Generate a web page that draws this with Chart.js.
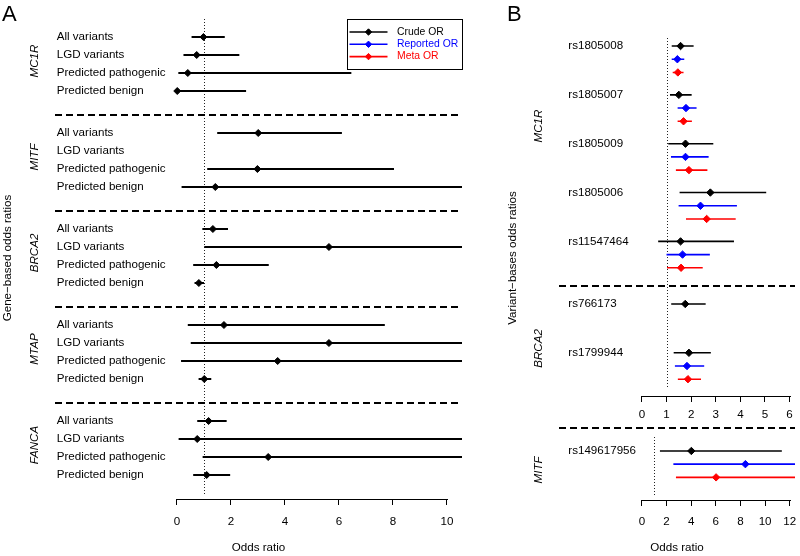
<!DOCTYPE html>
<html>
<head>
<meta charset="utf-8">
<script src="https://cdn.jsdelivr.net/npm/chart.js@4.4.0/dist/chart.umd.min.js"></script>
<style>
  html, body { margin: 0; padding: 0; background: #fff; }
  #wrap { position: relative; width: 800px; height: 556px; overflow: hidden; }
  canvas { position: absolute; }
</style>
</head>
<body>
<div id="wrap">
  <canvas id="chartA" width="470" height="556" style="left:0;top:0"></canvas>
  <canvas id="chartB1" width="330" height="430" style="left:470px;top:0"></canvas>
  <canvas id="chartB2" width="330" height="136" style="left:470px;top:420px"></canvas>
</div>
<script>
// ---- Panel A: gene-based odds ratios ----
const genesA = ['MC1R', 'MITF', 'BRCA2', 'MTAP', 'FANCA'];
const classesA = ['All variants', 'LGD variants', 'Predicted pathogenic', 'Predicted benign'];
const orA = [
  [0.98, 0.73, 0.40, 0.01],
  [3.01, null, 2.98, 1.42],
  [1.33, 5.63, 1.46, 0.81],
  [1.74, 5.63, 3.73, 1.01],
  [1.17, 0.75, 3.38, 1.10]
];
const loA = [
  [0.54, 0.24, 0.05, 0.00],
  [1.49, null, 1.12, 0.17],
  [0.94, 1.01, 0.60, 0.65],
  [0.40, 0.51, 0.15, 0.80],
  [0.75, 0.06, 0.95, 0.60]
];
const hiA = [
  [1.77, 2.31, 6.46, 2.56],
  [6.11, null, 8.04, 12.9],
  [1.89, 31.4, 3.40, 1.00],
  [7.70, 62.1, 24.0, 1.27],
  [1.84, 18.5, 13.2, 1.97]
];
const ticksA = [0, 2, 4, 6, 8, 10];

// ---- Panel B: variant-based odds ratios ----
const seriesB = ['Crude OR', 'Reported OR', 'Meta OR'];
const colorsB = ['#000000', '#0000ff', '#ff0000'];
const snpsB = ['rs1805008', 'rs1805007', 'rs1805009', 'rs1805006', 'rs11547464', 'rs766173', 'rs1799944', 'rs149617956'];
const genesB = ['MC1R', 'MC1R', 'MC1R', 'MC1R', 'MC1R', 'BRCA2', 'BRCA2', 'MITF'];
const crudeOR = [1.57, 1.50, 1.77, 2.78, 1.57, 1.76, 1.91, 4.01];
const crudeLo = [1.21, 1.14, 1.07, 1.53, 0.66, 1.19, 1.29, 1.46];
const crudeHi = [2.10, 2.02, 2.90, 5.05, 3.74, 2.59, 2.80, 11.36];
const reportedOR = [1.44, 1.79, 1.77, 2.38, 1.65, null, 1.83, 8.40];
const reportedLo = [1.21, 1.45, 1.18, 1.49, 1.00, null, 1.34, 2.55];
const reportedHi = [1.72, 2.22, 2.71, 3.86, 2.76, null, 2.53, 27.5];
const metaOR = [1.46, 1.69, 1.91, 2.63, 1.59, null, 1.87, 6.02];
const metaLo = [1.25, 1.45, 1.38, 1.79, 1.02, null, 1.46, 2.76];
const metaHi = [1.69, 2.03, 2.66, 3.81, 2.47, null, 2.40, 13.3];
const ticksB1 = [0, 1, 2, 3, 4, 5, 6];
const ticksB2 = [0, 2, 4, 6, 8, 10, 12];

const FONT = '"Liberation Sans", Arial, Helvetica, sans-serif';
const FS = 11.6;
Chart.defaults.font.family = FONT;
Chart.defaults.font.size = FS;
Chart.defaults.color = '#000';

// row layout (y in row units)
const groupStartA = genesA.map((g, i) => 1 + i * 16 / 3);
const rowYA = (g, r) => groupStartA[g] + r;

const snpStep = 3.7;
const startB = { MC1R: 0.76, BRCA2: 20.30, MITF: 1.74 };
const snpY = snpsB.map((s, i) => startB[genesB[i]] + snpsB.filter((t, j) => j < i && genesB[j] === genesB[i]).length * snpStep);

function ciDataset(lo, hi, ys, color, width) {
  const data = [];
  lo.forEach((l, i) => {
    if (l == null) return;
    data.push({ x: l, y: ys[i] }, { x: hi[i], y: ys[i] }, { x: l, y: null });
  });
  return { type: 'line', data, borderColor: color, borderWidth: width, pointRadius: 0,
           spanGaps: false, fill: false, tension: 0, order: 2 };
}
function pointDataset(or, ys, color, r) {
  const data = [];
  or.forEach((v, i) => { if (v != null) data.push({ x: v, y: ys[i] }); });
  return { type: 'line', showLine: false, data, pointStyle: 'rectRot', pointRadius: r,
           pointBackgroundColor: color, pointBorderColor: color, pointBorderWidth: 1, order: 1 };
}

function xScale(min, max, ticks, height, pad, title) {
  return {
    type: 'linear', min, max,
    afterBuildTicks: s => { s.ticks = ticks.map(v => ({ value: v })); },
    afterFit: s => { s.height = height; s.paddingLeft = 0; s.paddingRight = 0; },
    grid: { drawOnChartArea: false, drawTicks: true, tickLength: 6, color: '#000', lineWidth: 1 },
    border: { display: false },
    ticks: { padding: pad, color: '#000', maxRotation: 0, autoSkip: false },
    title: { display: !!title, text: title || '', color: '#000', padding: { top: 0, bottom: 1 } }
  };
}
function yScale(max) {
  return { type: 'linear', reverse: true, min: 0, max, display: false };
}

// drawing helpers
function dashedH(chart, v) {
  const { ctx, chartArea: a, scales: { y } } = chart;
  const py = Math.round(y.getPixelForValue(v));
  ctx.save();
  ctx.setLineDash([7, 4]); ctx.lineWidth = 1.8; ctx.strokeStyle = '#000';
  ctx.beginPath(); ctx.moveTo(a.left, py); ctx.lineTo(a.right, py); ctx.stroke();
  ctx.restore();
}
function dottedV(chart, v, topOff, botOff) {
  const { ctx, chartArea: a, scales: { x } } = chart;
  const px = Math.round(x.getPixelForValue(v)) + 0.5;
  ctx.save();
  ctx.setLineDash([1, 2]); ctx.lineWidth = 1; ctx.strokeStyle = '#222';
  ctx.beginPath(); ctx.moveTo(px, a.top + topOff); ctx.lineTo(px, a.bottom - botOff); ctx.stroke();
  ctx.restore();
}
function axisLine(chart, ticks) {
  const { ctx, chartArea: a, scales: { x } } = chart;
  const py = a.bottom + 0.5;
  ctx.save();
  ctx.lineWidth = 1; ctx.strokeStyle = '#000';
  ctx.beginPath();
  ctx.moveTo(Math.round(x.getPixelForValue(ticks[0])), py);
  ctx.lineTo(Math.round(x.getPixelForValue(ticks[ticks.length - 1])) + 1, py);
  ctx.stroke();
  ctx.restore();
}
function txt(ctx, s, x, y, o = {}) {
  ctx.save();
  ctx.font = (o.italic ? 'italic ' : '') + (o.size || FS) + 'px ' + FONT;
  ctx.fillStyle = o.color || '#000';
  ctx.textAlign = o.align || 'left';
  ctx.textBaseline = o.baseline || 'middle';
  ctx.translate(x, y);
  if (o.rot) ctx.rotate(o.rot);
  ctx.fillText(s, 0, 0);
  ctx.restore();
}
function diamond(ctx, x, y, r, color) {
  ctx.save();
  ctx.fillStyle = color; ctx.strokeStyle = color; ctx.lineWidth = 1;
  ctx.beginPath();
  ctx.moveTo(x - r, y); ctx.lineTo(x, y - r); ctx.lineTo(x + r, y); ctx.lineTo(x, y + r);
  ctx.closePath(); ctx.fill(); ctx.stroke();
  ctx.restore();
}

const baseOptions = {
  responsive: false, animation: false, devicePixelRatio: 1,
  plugins: { legend: { display: false }, tooltip: { enabled: false } }
};

// ---- Chart A ----
const ysA = [], orFlatA = [], loFlatA = [], hiFlatA = [];
genesA.forEach((g, gi) => classesA.forEach((c, ri) => {
  ysA.push(rowYA(gi, ri)); orFlatA.push(orA[gi][ri]); loFlatA.push(loA[gi][ri]); hiFlatA.push(hiA[gi][ri]);
}));

const decorA = {
  id: 'decorA',
  beforeDatasetsDraw(chart) {
    dottedV(chart, 1, 0, 4);
    for (let g = 0; g < genesA.length - 1; g++) dashedH(chart, groupStartA[g] + 13 / 3);
  },
  afterDraw(chart) {
    const { ctx, chartArea: a, scales: { y } } = chart;
    axisLine(chart, ticksA);
    genesA.forEach((g, gi) => {
      classesA.forEach((c, ri) => txt(ctx, c, 56.7, y.getPixelForValue(rowYA(gi, ri))));
      txt(ctx, g, 35, y.getPixelForValue(groupStartA[gi] + 1.5) - 3,
          { italic: true, align: 'center', rot: -Math.PI / 2 });
    });
    txt(ctx, 'Gene\u2212based odds ratios', 8, 258, { align: 'center', rot: -Math.PI / 2 });
    txt(ctx, 'A', 2, 21, { size: 22, baseline: 'alphabetic' });
    // legend box
    const w = 115, h = 50, L = a.right - w, T = a.top;
    ctx.save();
    ctx.lineWidth = 1; ctx.strokeStyle = '#000';
    ctx.strokeRect(Math.round(L) + 0.5, Math.round(T) + 0.5, w, h);
    seriesB.forEach((s, i) => {
      const ly = T + 13 + i * 12.3;
      ctx.strokeStyle = colorsB[i]; ctx.lineWidth = 1.6;
      ctx.beginPath(); ctx.moveTo(L + 2.5, ly); ctx.lineTo(L + 40.5, ly); ctx.stroke();
      diamond(ctx, L + 21.5, ly, 3.2, colorsB[i]);
      txt(ctx, s, L + 50, ly, { color: colorsB[i], size: 10.4 });
    });
    ctx.restore();
  }
};

new Chart(document.getElementById('chartA'), {
  type: 'line',
  data: { datasets: [ciDataset(loFlatA, hiFlatA, ysA, '#000', 1.8), pointDataset(orFlatA, ysA, '#000', 3.5)] },
  options: Object.assign({}, baseOptions, {
    layout: { padding: { left: 55, right: 8, top: 19, bottom: 0 } },
    scales: { x: xScale(-4.52, 10.56, ticksA, 57, 10, 'Odds ratio'), y: yScale(80 / 3) }
  }),
  plugins: [decorA]
});

// ---- Chart B helpers ----
const orsB = [crudeOR, reportedOR, metaOR];
const losB = [crudeLo, reportedLo, metaLo];
const hisB = [crudeHi, reportedHi, metaHi];

function datasetsB(idx) {
  const ds = [];
  seriesB.forEach((s, k) => {
    const ys = idx.map(i => snpY[i] + k);
    ds.push(ciDataset(idx.map(i => losB[k][i]), idx.map(i => hisB[k][i]), ys, colorsB[k], 1.6));
    ds.push(pointDataset(idx.map(i => orsB[k][i]), ys, colorsB[k], 3.7));
  });
  return ds;
}
function drawSnpLabels(chart, idx) {
  const { ctx, scales: { y } } = chart;
  idx.forEach(i => txt(ctx, snpsB[i], 98.3, y.getPixelForValue(snpY[i])));
}

// ---- Chart B1 (MC1R, BRCA2) ----
const idxB1 = [0, 1, 2, 3, 4, 5, 6];
const decorB1 = {
  id: 'decorB1',
  beforeDatasetsDraw(chart) {
    dottedV(chart, 1, 2, 8);
    dashedH(chart, 18.92);
  },
  afterDraw(chart) {
    const { ctx, scales: { y } } = chart;
    axisLine(chart, ticksB1);
    drawSnpLabels(chart, idxB1);
    txt(ctx, 'MC1R', 69, y.getPixelForValue(6.82), { italic: true, align: 'center', rot: -Math.PI / 2 });
    txt(ctx, 'BRCA2', 69, y.getPixelForValue(23.67), { italic: true, align: 'center', rot: -Math.PI / 2 });
    txt(ctx, 'Variant\u2212bases odds ratios', 43, 258, { align: 'center', rot: -Math.PI / 2 });
    txt(ctx, 'B', 37, 21, { size: 22, baseline: 'alphabetic' });
  }
};
new Chart(document.getElementById('chartB1'), {
  type: 'line',
  data: { datasets: datasetsB(idxB1) },
  options: Object.assign({}, baseOptions, {
    layout: { padding: { left: 89, right: 5, top: 36, bottom: 0 } },
    scales: { x: xScale(-3.37, 6.22, ticksB1, 34, 6, null), y: yScale(360 / 13.2) }
  }),
  plugins: [decorB1]
});

// ---- Chart B2 (MITF) ----
const idxB2 = [7];
const decorB2 = {
  id: 'decorB2',
  beforeDatasetsDraw(chart) {
    dottedV(chart, 1, 9, 5);
    dashedH(chart, 0);
  },
  afterDraw(chart) {
    const { ctx, scales: { y } } = chart;
    axisLine(chart, ticksB2);
    drawSnpLabels(chart, idxB2);
    txt(ctx, 'MITF', 69, y.getPixelForValue(3.18), { italic: true, align: 'center', rot: -Math.PI / 2 });
  }
};
new Chart(document.getElementById('chartB2'), {
  type: 'line',
  data: { datasets: datasetsB(idxB2) },
  options: Object.assign({}, baseOptions, {
    layout: { padding: { left: 89, right: 5, top: 8, bottom: 0 } },
    scales: { x: xScale(-6.74, 12.43, ticksB2, 56, 8.5, 'Odds ratio'), y: yScale(72 / 13.2) }
  }),
  plugins: [decorB2]
});
</script>
</body>
</html>
